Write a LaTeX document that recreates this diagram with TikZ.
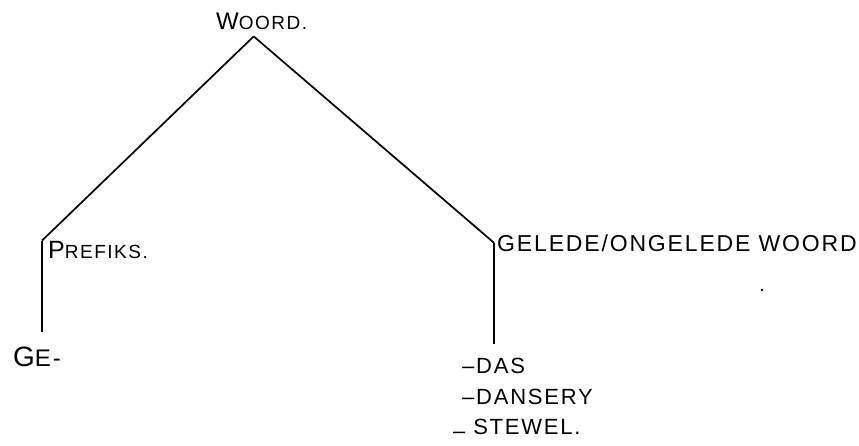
\documentclass[tikz,border=0pt]{standalone}
\usepackage{fontspec}
\setmainfont[LetterSpace=8]{Liberation Sans}
\newcommand{\hw}[2]{{\fontsize{#1}{#1}\selectfont #2}}

\begin{document}
\begin{tikzpicture}
  [x=1pt,y=-1pt,every node/.style={inner sep=0pt},
   branch/.style={line width=1.7pt}]
  \useasboundingbox (0,0) rectangle (859,445);

  \node[anchor=base west,inner ysep=7pt] (woord) at (216,29) {\hw{24}{W}\hw{19}{OORD.}};
  \node[anchor=base west,inner xsep=6pt] (prefiks) at (42,258) {\hw{25}{P}\hw{19}{REFIKS.}};
  \node[anchor=base west] (ge) at (13,366) {\hw{28}{G}\hw{24}{E-}};
  \node[anchor=base west,inner xsep=3pt] (gelede) at (494,251) {\hw{23}{GELEDE/ONGELEDE WOORD}};
  \node[anchor=base west] (das) at (462,373) {\hw{22}{–DAS}};
  \node[anchor=base west] (dansery) at (462,404) {\hw{22}{–DANSERY}};
  \node[anchor=base west] (stewel) at (453,434) {\hw{22}{\raisebox{-4pt}{–} STEWEL.}};
  \coordinate (top) at ([xshift=-8pt]woord.south);

  \draw[branch] (top) -- (prefiks.north west);
  \draw[branch] (top) -- (gelede.west);
  \draw[branch,shorten >=14pt] (prefiks.north west) -- (prefiks.north west |- ge.north);
  \draw[branch,shorten >=13pt] (gelede.west) -- (gelede.west |- das.north);

  \fill (762,290) circle (1.3pt);
\end{tikzpicture}
\end{document}
